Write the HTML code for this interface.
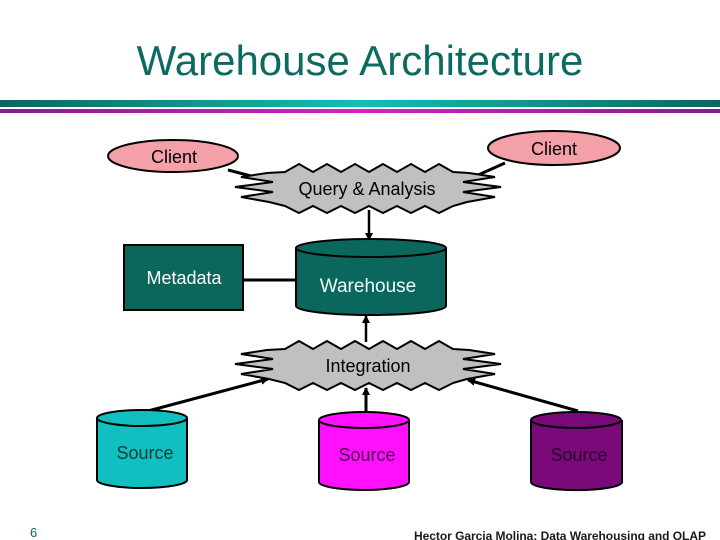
<!DOCTYPE html>
<html><head><meta charset="utf-8"><style>
html,body{margin:0;padding:0;background:#fff;}
svg{display:block;font-family:"Liberation Sans",Arial,sans-serif;}
</style></head><body>
<svg id="s" width="720" height="540" viewBox="0 0 720 540">
<defs>
<linearGradient id="gt" x1="0" x2="1"><stop offset="0" stop-color="#0d6460"/><stop offset="0.5" stop-color="#10c0b8"/><stop offset="1" stop-color="#0d6460"/></linearGradient>
<linearGradient id="gm" x1="0" x2="1"><stop offset="0" stop-color="#8a1a8a"/><stop offset="0.5" stop-color="#d020d0"/><stop offset="1" stop-color="#8a1a8a"/></linearGradient>
<marker id="ar" markerWidth="8" markerHeight="8" refX="7" refY="4" orient="auto" markerUnits="userSpaceOnUse"><path d="M0,0 L8,4 L0,8 Z" fill="#000"/></marker>
</defs>
<text x="360" y="75" font-size="42" text-anchor="middle" fill="#0d6a62">Warehouse Architecture</text>
<rect x="0" y="100" width="720" height="7" fill="url(#gt)"/>
<rect x="0" y="109" width="720" height="4" fill="url(#gm)"/>

<!-- connectors -->
<line x1="228" y1="170" x2="282" y2="184" stroke="#000" stroke-width="3" marker-end="url(#ar)"/>
<line x1="505" y1="163" x2="458" y2="184" stroke="#000" stroke-width="3" marker-end="url(#ar)"/>
<line x1="369" y1="210" x2="369" y2="240" stroke="#000" stroke-width="2.5" marker-end="url(#ar)"/>
<line x1="243" y1="280" x2="297" y2="280" stroke="#000" stroke-width="3"/>
<line x1="366" y1="342" x2="366" y2="316" stroke="#000" stroke-width="2.5" marker-end="url(#ar)"/>
<line x1="148" y1="411" x2="268" y2="379" stroke="#000" stroke-width="3" marker-end="url(#ar)"/>
<line x1="366" y1="413" x2="366" y2="388" stroke="#000" stroke-width="3" marker-end="url(#ar)"/>
<line x1="578" y1="411" x2="468" y2="380" stroke="#000" stroke-width="3" marker-end="url(#ar)"/>

<!-- clients -->
<ellipse cx="173" cy="156" rx="65" ry="16" fill="#f4a0a8" stroke="#000" stroke-width="2"/>
<text x="174" y="163" font-size="18" text-anchor="middle">Client</text>
<ellipse cx="554" cy="148" rx="66" ry="17" fill="#f4a0a8" stroke="#000" stroke-width="2"/>
<text x="554" y="155" font-size="18" text-anchor="middle">Client</text>

<g id="bursts"></g>
<text x="367" y="195" font-size="18" text-anchor="middle">Query &amp; Analysis</text>
<text x="368" y="372" font-size="18" text-anchor="middle">Integration</text>

<!-- metadata -->
<rect x="124" y="245" width="119" height="65" fill="#0b665c" stroke="#000" stroke-width="2"/>
<text x="184" y="284" font-size="18" text-anchor="middle" fill="#fff">Metadata</text>

<!-- warehouse -->
<path d="M296,248 L296,306 A75,9 0 0 0 446,306 L446,248" fill="#0b665c" stroke="#000" stroke-width="2"/>
<ellipse cx="371" cy="248" rx="75" ry="9" fill="#0b665c" stroke="#000" stroke-width="2"/>
<text x="368" y="292" font-size="19" text-anchor="middle" fill="#e8fff8">Warehouse</text>

<!-- sources -->
<path d="M97,418 L97,480 A45,8 0 0 0 187,480 L187,418" fill="#10c0c0" stroke="#000" stroke-width="2"/>
<ellipse cx="142" cy="418" rx="45" ry="8" fill="#10c0c0" stroke="#000" stroke-width="2"/>
<text x="145" y="459" font-size="18" text-anchor="middle" fill="#0a3a3a">Source</text>

<path d="M319,420 L319,482 A45,8 0 0 0 409,482 L409,420" fill="#ff10ff" stroke="#000" stroke-width="2"/>
<ellipse cx="364" cy="420" rx="45" ry="8" fill="#ff10ff" stroke="#000" stroke-width="2"/>
<text x="367" y="461" font-size="18" text-anchor="middle" fill="#500050">Source</text>

<path d="M531,420 L531,482 A45,8 0 0 0 622,482 L622,420" fill="#7a0a7a" stroke="#000" stroke-width="2"/>
<ellipse cx="576" cy="420" rx="45" ry="8" fill="#7a0a7a" stroke="#000" stroke-width="2"/>
<text x="579" y="461" font-size="18" text-anchor="middle" fill="#2a002a">Source</text>

<text x="30" y="537" font-size="13" fill="#0d6a62">6</text>
<text x="706" y="540" font-size="12" text-anchor="end" font-weight="bold" fill="#1a1a1a" textLength="292">Hector Garcia Molina: Data Warehousing and OLAP</text>
</svg>
<script>
function burst(cx,cy){
  var p=[];
  // top edge
  for(var x=-84,i=0;x<=84;x+=14,i++) p.push([cx+x,cy+(i%2?-25:-17)]);
  var r=[[100,-16],[126,-12],[94,-7],[132,-2],[94,3],[126,8],[98,13]];
  r.forEach(function(a){p.push([cx+a[0],cy+a[1]]);});
  for(var x=84,i=0;x>=-84;x-=14,i++) p.push([cx+x,cy+(i%2?24:17)]);
  r.slice().reverse().forEach(function(a){p.push([cx-a[0]-2,cy+a[1]]);});
  return '<polygon points="'+p.map(function(q){return q.join(',');}).join(' ')+'" fill="#c0c0c0" stroke="#000" stroke-width="2"/>';
}
document.getElementById('bursts').innerHTML=burst(369,189)+burst(369,366);
</script>
</body></html>
